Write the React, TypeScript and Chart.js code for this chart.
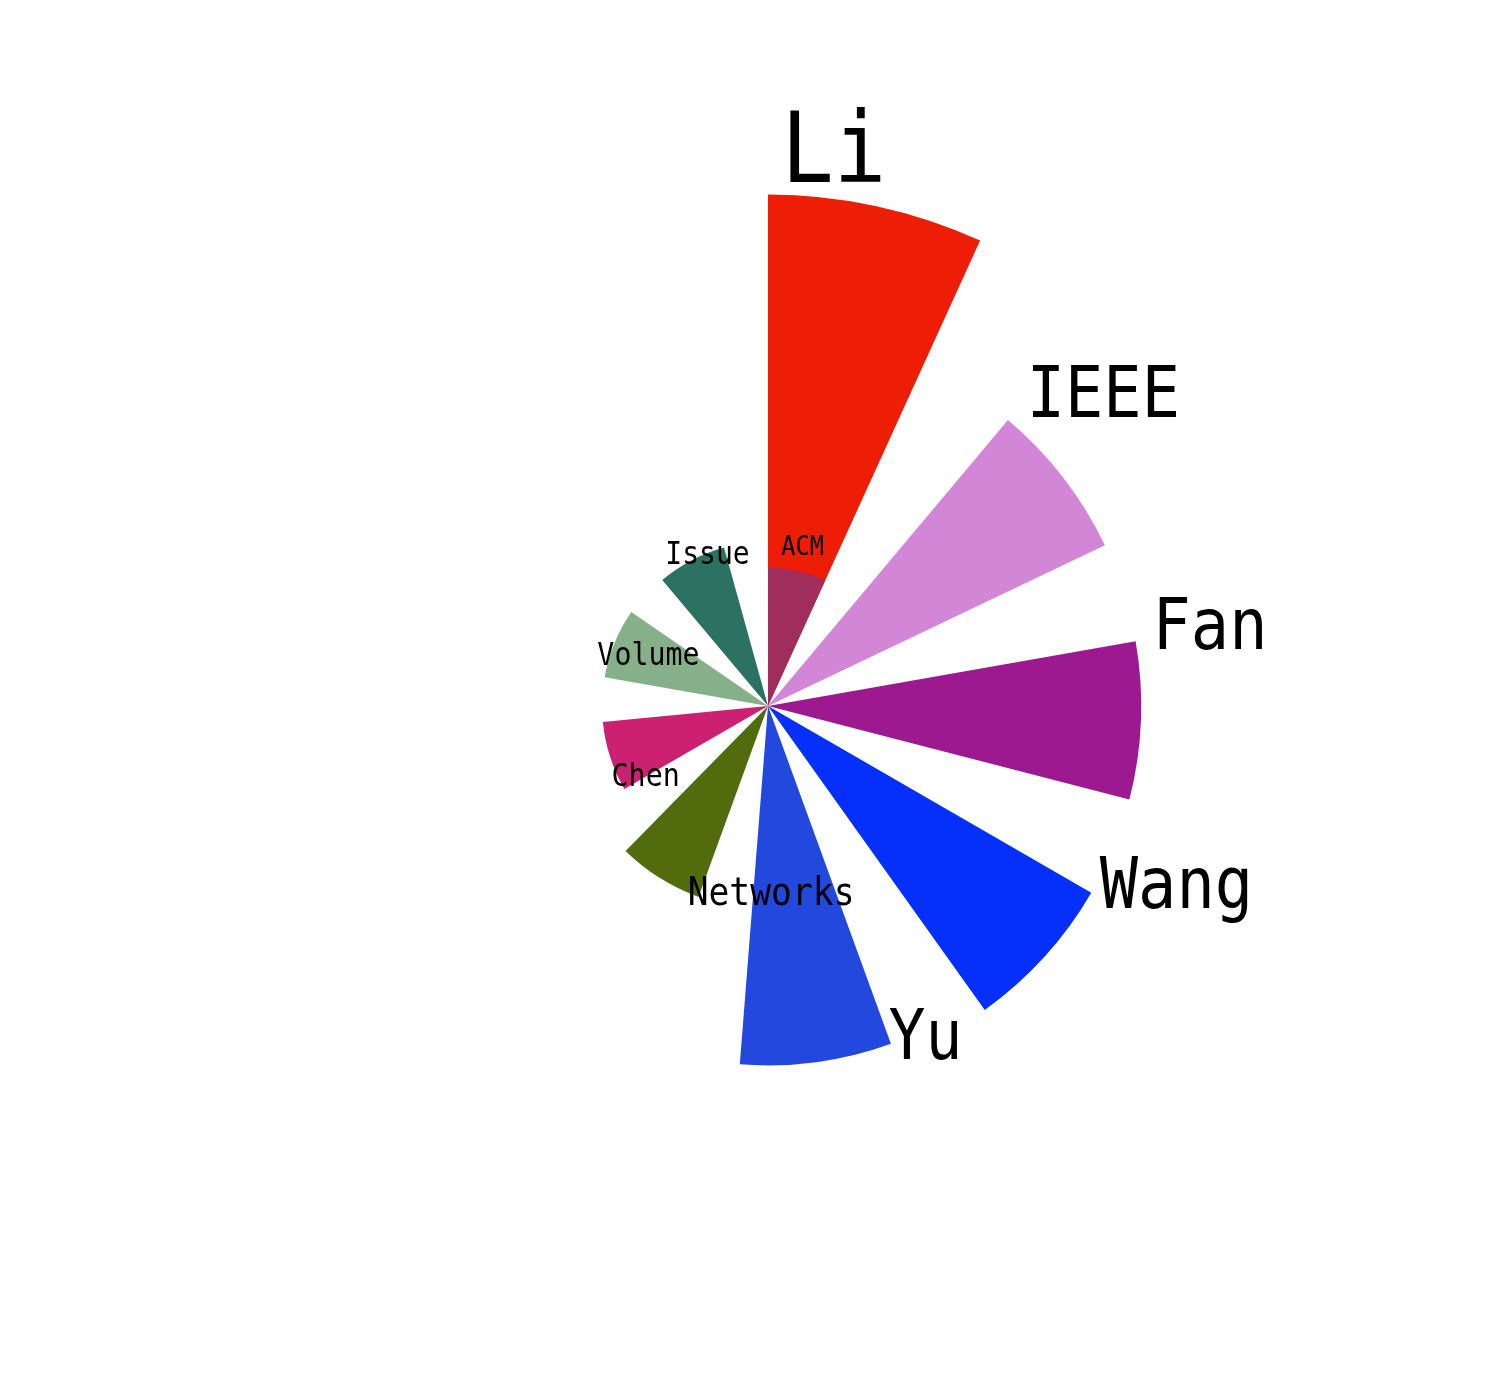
import React, { useEffect, useRef } from 'react';
import { Chart, registerables } from 'chart.js';

Chart.register(...registerables);

// Categories in clockwise order, starting at 12 o'clock
const categories = ['Li', 'IEEE', 'Fan', 'Wang', 'Yu', 'Networks', 'Chen', 'Volume', 'Issue', 'ACM'];
const values = [37, 27, 27, 27, 26, 14.7, 12, 12, 11.9, 10];
const colors = ['#ee1d05', '#d286d6', '#9c198f', '#0530fa', '#2348de', '#526b0c', '#cb2170', '#86b08a', '#2c7262', '#a02d5c'];
const wedgeAngle = 24.5;
const gapAngle = 15.5;
const radialMax = 50.2;

const labelPlugin = {
  id: 'roseLabels',
  afterDatasetsDraw(chart: any) {
    const meta = chart.getDatasetMeta(0);
    const ctx = chart.ctx;
    ctx.save();
    ctx.fillStyle = '#000000';
    ctx.textAlign = 'left';
    ctx.textBaseline = 'alphabetic';
    categories.forEach((name, i) => {
      const arc = meta.data[i * 2];
      if (!arc) return;
      const { x, y, startAngle, outerRadius } = arc.getProps(['x', 'y', 'startAngle', 'outerRadius'], true);
      const cx = x + outerRadius * Math.cos(startAngle);
      const cy = y + outerRadius * Math.sin(startAngle);
      const a = startAngle + (40 * Math.PI) / 180;
      const px = cx + 16 * Math.cos(a) + 3;
      const py = cy + 16 * Math.sin(a);
      const size = values[i] * 2.65;
      ctx.font = `${size}px "DejaVu Sans Mono"`;
      ctx.save();
      ctx.translate(px, py);
      ctx.scale(0.89, 1);
      ctx.fillText(name, 0, 0);
      ctx.restore();
    });
    ctx.restore();
  },
};

export default function App() {
  const canvasRef = useRef<HTMLCanvasElement | null>(null);

  useEffect(() => {
    document.body.style.margin = '0';
    const labels: string[] = [];
    const data: number[] = [];
    const bg: string[] = [];
    const angles: number[] = [];
    categories.forEach((c, i) => {
      labels.push(c);
      data.push(values[i]);
      bg.push(colors[i]);
      angles.push(wedgeAngle);
      if (i < categories.length - 1) {
        labels.push('');
        data.push(0);
        bg.push('rgba(0,0,0,0)');
        angles.push(gapAngle);
      }
    });

    const chart = new Chart(canvasRef.current as HTMLCanvasElement, {
      type: 'polarArea',
      data: {
        labels,
        datasets: [
          {
            data,
            backgroundColor: bg,
            borderWidth: 0,
            angle: angles,
          } as any,
        ],
      },
      options: {
        responsive: false,
        animation: false,
        events: [],
        layout: { padding: { left: 36, top: 12, right: 0, bottom: 0 } },
        plugins: {
          legend: { display: false },
          tooltip: { enabled: false },
        },
        scales: {
          r: {
            display: false,
            min: 0,
            max: radialMax,
            startAngle: 0,
          },
        },
      },
      plugins: [labelPlugin],
    });
    return () => chart.destroy();
  }, []);

  return (
    <div style={{ position: 'absolute', left: 0, top: 0, width: 1500, height: 1400, background: '#ffffff' }}>
      <canvas ref={canvasRef} width={1500} height={1400} />
    </div>
  );
}
